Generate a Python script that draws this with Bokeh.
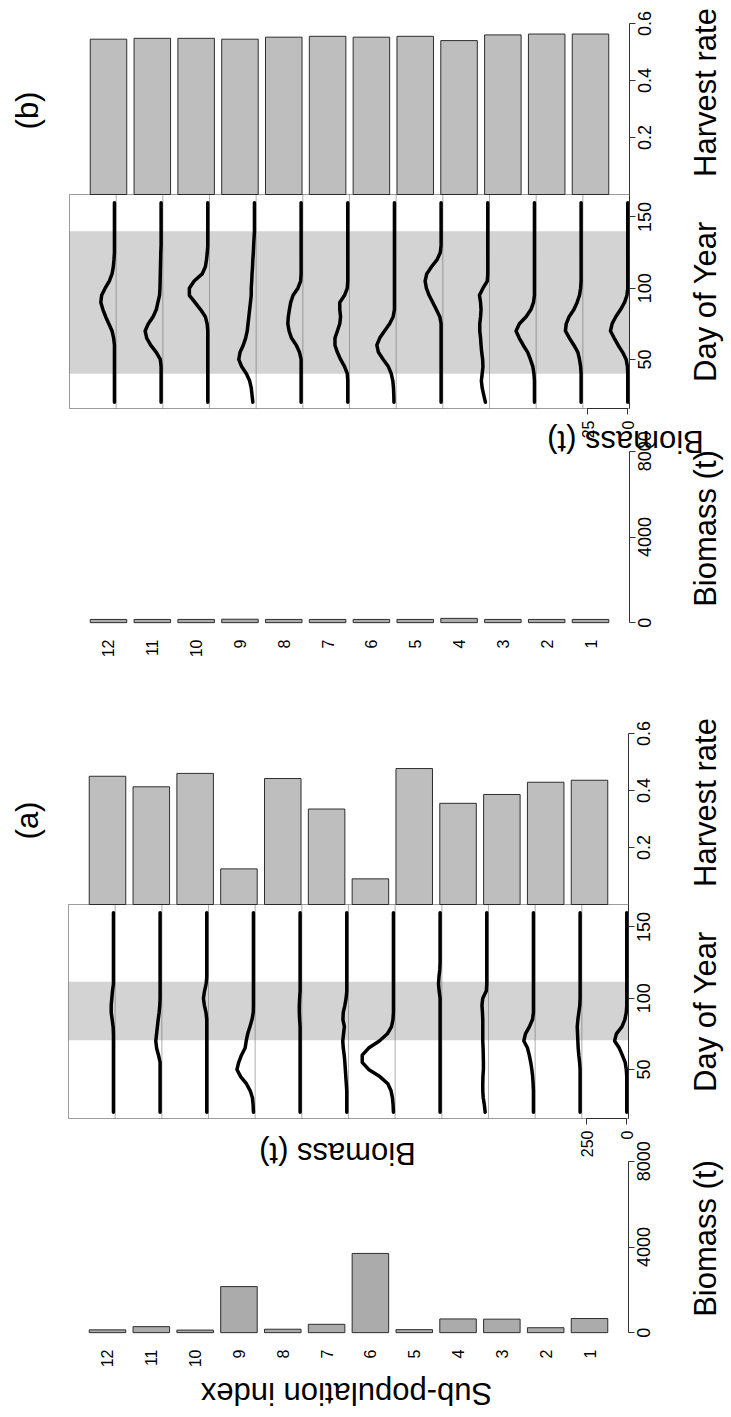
import math
from bokeh.plotting import figure
from bokeh.models import (Range1d, LinearAxis, FixedTicker, BoxAnnotation, Label,
                          ColumnDataSource)
from bokeh.core.properties import value
from bokeh.embed import file_html
from bokeh.resources import INLINE

PAGE_W, PAGE_H = 731, 1417
FONT = "Liberation Sans"

# ---------------- data ----------------
subpops = [12, 11, 10, 9, 8, 7, 6, 5, 4, 3, 2, 1]

harvest_a = [0.450, 0.413, 0.460, 0.125, 0.442, 0.335, 0.090, 0.477, 0.355, 0.386, 0.429, 0.436]
biomass_a = [130, 280, 120, 2150, 160, 390, 3700, 140, 640, 630, 230, 660]

harvest_b = [0.545, 0.548, 0.548, 0.545, 0.552, 0.555, 0.552, 0.555, 0.540, 0.560, 0.563, 0.563]
biomass_b = [150, 150, 150, 160, 150, 150, 150, 150, 200, 150, 150, 150]

days = [20, 25, 30, 35, 40, 45, 50, 55, 60, 65, 70, 75, 80, 85, 90, 95, 100, 105, 110,
        115, 120, 125, 130, 140, 150, 160]

# panel (a) daily biomass (t) per sub-population
a12 = [0, 0, 0, 0, 0, 0, 0, 0, 0, 0, 0, 0, 2, 8, 14, 14, 10, 6, 0, 0, 0, 0, 0, 0, 0, 0]
a11 = [0, 0, 0, 0, 0, 0, 0, 0, 10, 22, 27, 22, 17, 12, 6, 2, 0, 0, 0, 0, 0, 0, 0, 0, 0, 0]
a10 = [0, 0, 0, 0, 0, 0, 0, 0, 0, 0, 0, 0, 0, 0, 5, 15, 21, 14, 4, 0, 0, 0, 0, 0, 0, 0]
a9 = [0, 2, 6, 20, 44, 80, 103, 92, 75, 52, 45, 36, 22, 9, 1, 0, 0, 0, 0, 0, 0, 0, 0, 0, 0, 0]
a8 = [0, 0, 0, 0, 0, 0, 0, 0, 0, 0, 0, 0, 0, 3, 5, 5, 3, 0, 0, 0, 0, 0, 0, 0, 0, 0]
a7 = [0, 0, 0, 0, 3, 6, 9, 12, 16, 22, 25, 20, 15, 24, 22, 12, 4, 0, 0, 0, 0, 0, 0, 0, 0, 0]
a6 = [0, 2, 6, 15, 35, 85, 155, 195, 195, 155, 88, 38, 12, 3, 0, 0, 0, 0, 0, 0, 0, 0, 0, 0, 0, 0]
a5 = [0, 0, 0, 0, 0, 0, 0, 0, 0, 0, 0, 0, 0, 0, 0, 0, 0, 6, 10, 7, 2, 0, 0, 0, 0, 0]
a4 = [10, 15, 22, 25, 25, 24, 21, 21, 22, 23, 25, 25, 25, 25, 27, 30, 25, 3, 0, 0, 0, 0, 0, 0, 0, 0]
a3 = [0, 0, 0, 0, 2, 5, 10, 17, 26, 37, 60, 50, 25, 6, 0, 0, 0, 0, 0, 0, 0, 0, 0, 0, 0, 0]
a2 = [0, 0, 0, 0, 0, 0, 0, 3, 8, 12, 14, 16, 18, 14, 8, 2, 0, 0, 0, 0, 0, 0, 0, 0, 0, 0]
a1 = [0, 0, 0, 0, 0, 0, 3, 10, 28, 47, 76, 65, 30, 12, 3, 0, 0, 0, 0, 0, 0, 0, 0, 0, 0, 0]

# panel (b) daily biomass (t) per sub-population
b12 = [0, 0, 0, 0, 0, 0, 0, 0, 0, 0.5, 1.5, 3.5, 5.5, 7.2, 8.5, 8, 5.8, 3.2, 1.5, 0.7, 0.3, 0, 0, 0, 0, 0]
b11 = [0, 0, 0, 0, 0, 0, 0.5, 3, 6.5, 9, 10, 8, 5, 3, 2, 1, 0.7, 0.6, 0.5, 0.4, 0.3, 0.2, 0, 0, 0, 0]
b10 = [0, 0, 0, 0, 0, 0, 0, 0, 0, 0, 0, 0.4, 1.5, 4.5, 8, 11.5, 11.5, 8.5, 3.5, 1.5, 0.8, 0.3, 0, 0, 0, 0]
b9 = [1, 1.5, 2, 3, 5, 8, 9.8, 9, 7, 5.5, 4.5, 4, 3.5, 3, 2.5, 2, 2, 1.7, 1.5, 1.2, 1, 0.7, 0.5, 0, 0, 0]
b8 = [0, 0, 0, 0, 0, 0, 0, 1, 3, 6, 7.5, 8.3, 8, 7.3, 6.5, 5, 2, 0.3, 0, 0, 0, 0, 0, 0, 0, 0]
b7 = [0, 0, 0, 0, 0.3, 2, 4.5, 6.5, 8, 8, 6.5, 5, 4.5, 5, 5, 2, 0.3, 0, 0, 0, 0, 0, 0, 0, 0, 0]
b6 = [0.3, 0.4, 0.6, 1, 2, 3.8, 7, 10, 11, 9.2, 6.2, 3, 0.8, 0, 0, 0, 0, 0, 0, 0, 0, 0, 0, 0, 0, 0]
b5 = [0, 0, 0, 0, 0, 0, 0, 0, 0, 0, 0, 0, 0.8, 3, 5.2, 7.5, 9.2, 10, 9, 6, 2.5, 0.5, 0, 0, 0, 0]
b4 = [1.5, 2.5, 3.5, 4, 3.5, 3, 3.2, 3.8, 4.2, 4.5, 5, 5, 4.5, 4.2, 4.5, 5.2, 3, 0.3, 0, 0, 0, 0, 0, 0, 0, 0]
b3 = [0, 0, 0, 0, 0.3, 1, 2.5, 4.2, 7, 9.5, 11.5, 9.4, 5.2, 2.2, 0.6, 0, 0, 0, 0, 0, 0, 0, 0, 0, 0, 0]
b2 = [0, 0, 0, 0, 0, 0.3, 1, 2, 4.5, 7.3, 9.8, 9.3, 7.5, 4.5, 2.5, 1, 0.3, 0, 0, 0, 0, 0, 0, 0, 0, 0]
b1 = [0, 0, 0, 0, 0, 0.2, 1, 3.2, 6, 8.5, 10.8, 9.8, 7.5, 4.5, 2, 0.5, 0, 0, 0, 0, 0, 0, 0, 0, 0, 0]

series_a = [a12, a11, a10, a9, a8, a7, a6, a5, a4, a3, a2, a1]
series_b = [b12, b11, b10, b9, b8, b7, b6, b5, b4, b3, b2, b1]

season_a = (70.5, 111.5)     # shaded fishing season, day of year
season_b = (40.0, 140.0)
strip_max_a = 270            # biomass axis limit of each strip
strip_max_b = 27
strip_tick_a = 250
strip_tick_b = 25

DAY_LIM = (15.6, 165.7)
DAY_TICKS = [50, 100, 150]
HARV_TICKS = [0.2, 0.4, 0.6]
BIO_TICKS = [0, 4000, 8000]
BIO_LIM = (-320, 8320)
SLOT_LIM = (0.11, 12.89)

slot = list(range(1, 13))            # bar slot positions, left to right
slot_labels = {}
for pos, s in zip(slot, subpops):
    slot_labels[pos] = str(s)
    slot_labels[str(pos)] = str(s)

# ---------------- one page-sized figure ----------------
p = figure(frame_width=PAGE_W, frame_height=PAGE_H,
           x_range=Range1d(0, PAGE_W), y_range=Range1d(PAGE_H, 0),
           min_border=0, min_border_left=0, min_border_right=0,
           min_border_top=0, min_border_bottom=0,
           toolbar_location=None, output_backend="svg",
           x_axis_location=None, y_axis_location=None, title=None)
p.outline_line_color = None
p.background_fill_color = "white"
p.border_fill_color = "white"
p.xgrid.visible = False
p.ygrid.visible = False


def x_range_from(px_a, val_a, px_b, val_b):
    k = (val_b - val_a) / (px_b - px_a)
    return Range1d(start=val_a + k * (0 - px_a), end=val_a + k * (PAGE_W - px_a))


def y_range_from(py_a, val_a, py_b, val_b):
    k = (val_b - val_a) / (py_b - py_a)
    return Range1d(start=val_a + k * (PAGE_H - py_a), end=val_a + k * (0 - py_a))


def style_axis(ax, size="18px"):
    ax.major_tick_out = 6
    ax.major_tick_in = 0
    ax.minor_tick_out = 0
    ax.minor_tick_in = 0
    ax.major_label_standoff = 4
    ax.major_label_text_font = FONT
    ax.major_label_text_font_size = size
    ax.major_label_text_color = "black"
    ax.major_label_orientation = math.pi / 2
    ax.axis_line_color = "#333333"
    ax.major_tick_line_color = "#333333"


def right_axis(ticks, xname, yname, xloc, bounds):
    ax = LinearAxis(ticker=FixedTicker(ticks=ticks), bounds=bounds,
                    x_range_name=xname, y_range_name=yname, fixed_location=xloc)
    style_axis(ax)
    ax.major_label_text_font_size = "0px"
    ax.major_label_text_color = None
    p.add_layout(ax, "right")
    # tick labels centred on their ticks, reading upwards
    p.text(x=[xloc] * len(ticks), y=ticks, text=[f"{t:g}" for t in ticks],
           x_range_name=xname, y_range_name=yname, angle=math.pi / 2,
           text_align="center", text_baseline="top", x_offset=8,
           text_font=value(FONT), text_font_size=value("18px"), text_color="black")


def build_panel(tag, X0, Y, harvest, biomass, series, season, smax, stick):
    bx, hy, sx, dy, by = (f"bx{tag}", f"hy{tag}", f"sx{tag}", f"dy{tag}", f"by{tag}")
    lo, hi = -0.04 * smax, 1.04 * smax
    W = hi - lo
    box_top, box_bot = Y + 194, Y + 408
    p.extra_x_ranges[bx] = x_range_from(X0, SLOT_LIM[0], X0 + 560, SLOT_LIM[1])
    p.extra_x_ranges[sx] = x_range_from(X0, 11 * W + hi, X0 + 560, lo)
    p.extra_y_ranges[hy] = y_range_from(box_top, 0.0, box_top - 285, 1.0)
    p.extra_y_ranges[dy] = y_range_from(box_top, DAY_LIM[1], box_bot, DAY_LIM[0])
    p.extra_y_ranges[by] = y_range_from(Y + 444, BIO_LIM[1], Y + 629, BIO_LIM[0])

    # harvest rate bars
    p.vbar(x=slot, top=harvest, bottom=0, width=1 / 1.2, x_range_name=bx, y_range_name=hy,
           fill_color="#bebebe", line_color="#2e2e2e", line_width=1)
    right_axis(HARV_TICKS, bx, hy, SLOT_LIM[1], (0, 0.6))

    # time series strips
    left_edge, right_edge = 11 * W + hi, lo
    p.add_layout(BoxAnnotation(left=left_edge, right=right_edge, bottom=season[0], top=season[1],
                               x_range_name=sx, y_range_name=dy, fill_color="#d3d3d3",
                               fill_alpha=1, line_color=None, level="underlay"))
    for k in range(12):
        p.add_layout(BoxAnnotation(left=k * W + hi, right=k * W + lo,
                                   bottom=DAY_LIM[0], top=DAY_LIM[1],
                                   x_range_name=sx, y_range_name=dy, fill_color=None,
                                   line_color="#6a6a6a", line_width=1, level="underlay"))
    for s, vals in zip(subpops, series):
        offset = (s - 1) * W
        src = ColumnDataSource(dict(day=days, b=[offset + v for v in vals]))
        p.line(x="b", y="day", source=src, x_range_name=sx, y_range_name=dy,
               line_color="black", line_width=3.5, line_cap="round", line_join="round")
    p.add_layout(BoxAnnotation(left=left_edge, right=right_edge, bottom=DAY_LIM[0], top=DAY_LIM[1],
                               x_range_name=sx, y_range_name=dy, fill_color=None,
                               line_color="#222222", line_width=1))
    right_axis(DAY_TICKS, sx, dy, right_edge, DAY_LIM)
    sax = LinearAxis(ticker=FixedTicker(ticks=[0, stick]), bounds=(0, stick),
                     x_range_name=sx, y_range_name=dy, fixed_location=DAY_LIM[0])
    style_axis(sax, "16px")
    sax.major_label_standoff = 6
    p.add_layout(sax, "below")

    # biomass bars
    p.vbar(x=slot, top=biomass, bottom=0, width=1 / 1.2, x_range_name=bx, y_range_name=by,
           fill_color="#ababab", line_color="#2e2e2e", line_width=1)
    right_axis(BIO_TICKS, bx, by, SLOT_LIM[1], (0, 8000))
    xax = LinearAxis(ticker=FixedTicker(ticks=slot), major_label_overrides=slot_labels,
                     x_range_name=bx, y_range_name=by, fixed_location=BIO_LIM[0])
    style_axis(xax, "16px")
    xax.axis_line_color = None
    xax.major_tick_line_color = None
    xax.major_tick_out = 0
    xax.major_label_standoff = 10
    p.add_layout(xax, "below")


build_panel("b", 69, 0, harvest_b, biomass_b, series_b, season_b, strip_max_b, strip_tick_b)
build_panel("a", 68, 710, harvest_a, biomass_a, series_a, season_a, strip_max_a, strip_tick_a)


def title(x, y, text, angle, size="31px"):
    p.add_layout(Label(x=x, y=y, text=text, angle=angle, text_align="center",
                       text_baseline="middle", text_font=FONT, text_font_size=size,
                       text_color="black"))


V = math.pi / 2
for Y, tag in [(0, "(b)"), (710, "(a)")]:
    title(27, Y + 110, tag, V)
    title(705, Y + 92, "Harvest rate", V)
    title(705, Y + 301, "Day of Year", V)
    title(705, Y + 528, "Biomass (t)", V)
title(625, 441, "Biomass (t)", math.pi)
title(337, 710 + 443, "Biomass (t)", math.pi)
title(346, 710 + 683, "Sub-population index", math.pi)

open("out.html", "w").write(file_html(p, INLINE))
